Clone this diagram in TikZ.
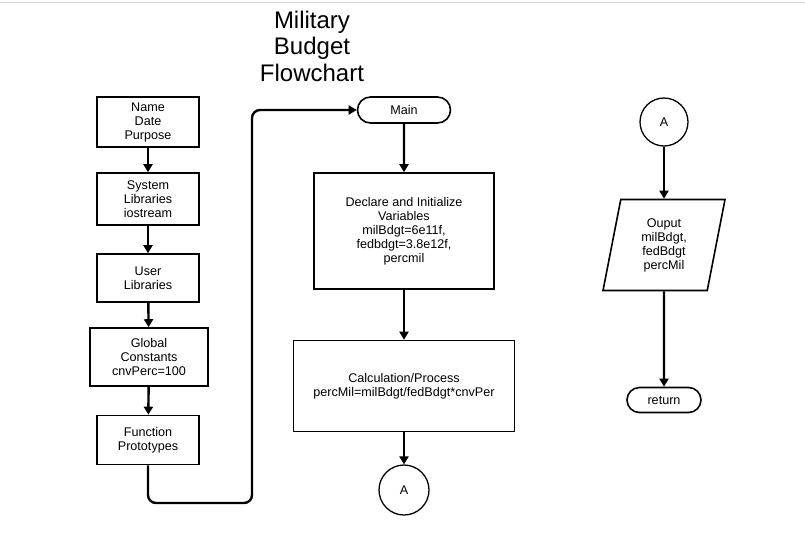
\documentclass[tikz,border=0pt]{standalone}
\usepackage{fontspec}
\setmainfont{Liberation Sans}
\usetikzlibrary{arrows.meta,shapes.geometric,shapes.misc}
\begin{document}
\begin{tikzpicture}[x=1pt,y=-1pt,
  every node/.style={font=\fontsize{12.6}{14}\selectfont, align=center, inner sep=0pt},
  box/.style={draw, line width=1.6pt, minimum width=#1, anchor=center},
  term/.style={draw, line width=1.6pt, rounded rectangle, minimum height=26, minimum width=#1},
  conn/.style={draw, circle, line width=1.3pt, minimum size=#1},
  flow/.style={line width=2.4pt, -{Triangle[width=9pt,length=8pt]}}]
\useasboundingbox (0,0) rectangle (805,539);
\draw[gray!30, line width=0.8pt] (0,2) -- (805,2);
\node[font=\fontsize{24}{26.5}\selectfont] (title) at (312,46) {Military\\Budget\\Flowchart};
\node[box=102, minimum height=50] (name) at (148,122) {Name\\Date\\Purpose};
\node[box=102, minimum height=52] (sys) at (148,199) {System\\Libraries\\iostream};
\node[box=102, minimum height=48] (user) at (148,278) {User\\Libraries};
\node[box=118, minimum height=58] (glob) at (149,357) {Global\\Constants\\cnvPerc=100};
\node[box=102, minimum height=49] (proto) at (148,440) {Function\\Prototypes};
\node[term=93] (main) at (404,110) {Main};
\node[box=180, minimum height=116] (decl) at (404,231) {Declare and Initialize\\Variables\\milBdgt=6e11f,\\fedbdgt=3.8e12f,\\percmil};
\node[box=221, minimum height=91] (calc) at (404,386) {Calculation/Process\\percMil=milBdgt/fedBdgt*cnvPer};
\node[conn=50] (a1) at (404,490) {A};
\node[conn=48] (a2) at (664,122) {A};
\node[draw, line width=1.6pt, trapezium, trapezium stretches body, trapezium left angle=71.6, trapezium right angle=108.4, minimum width=122, minimum height=91] (out) at (664,245) {Ouput\\milBdgt,\\fedBdgt\\percMil};
\node[term=74, minimum height=25] (ret) at (664,400) {return};
\coordinate (c1) at (148,503);
\coordinate (c2) at (252,503);
\coordinate (c3) at (252,110);
\draw[flow] (name) -- (sys);
\draw[flow] (sys) -- (user);
\draw[flow] (user) -- (glob);
\draw[flow] (glob) -- (proto);
\draw[flow, rounded corners=8pt] (proto.south) -- (c1) -- (c2) -- (c3) -- (main.west);
\draw[flow] (main) -- (decl);
\draw[flow] (decl) -- (calc);
\draw[flow] (calc) -- (a1);
\draw[flow] (a2) -- (out.north -| a2);
\draw[flow] (out.south -| ret) -- (ret);
\end{tikzpicture}
\end{document}
